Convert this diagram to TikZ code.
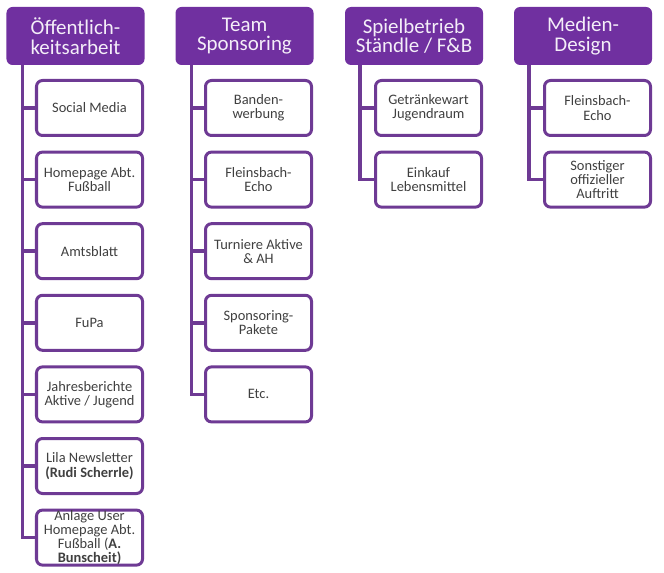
\documentclass[tikz,border=0pt]{standalone}
\usepackage{fontspec}
\setmainfont{Carlito}
\usetikzlibrary{backgrounds}
\definecolor{hdrfill}{HTML}{7030A0}
\definecolor{linecol}{HTML}{6E3A94}
\definecolor{txtcol}{HTML}{404040}
\definecolor{hdrtxt}{HTML}{F4EEF8}
\tikzset{
  hdr/.style={draw=none, fill=hdrfill, rounded corners=6bp, minimum width=138bp, minimum height=58bp,
    text=hdrtxt, align=center, inner sep=0pt, font=\fontsize{21}{19.5}\selectfont},
  child/.style={draw=linecol, line width=3bp, fill=white, rounded corners=6bp, minimum width=106bp,
    minimum height=55bp, text=txtcol, align=center, inner sep=0pt, font=\fontsize{14.5}{14.2}\selectfont},
  conn/.style={draw=linecol, line width=3.5bp}
}
\begin{document}
\begin{tikzpicture}[x=1bp,y=-1bp]
\useasboundingbox (0,0) rectangle (664,573);
% headers
\node[hdr] (h1) at (75.5,36) {Öffentlich-\\keitsarbeit};
\node[hdr] (h2) at (244.5,36) {Team\\Sponsoring};
\node[hdr] (h3) at (414,36) {Spielbetrieb\\Ständle / F\&B};
\node[hdr] (h4) at (583,36) {Medien-\\Design};
% stem coordinates
\coordinate (s1) at (22.5,60);
\coordinate (s2) at (191.3,60);
\coordinate (s3) at (360,60);
\coordinate (s4) at (529,60);
% column 1
\node[child] (c1a) at (89.5,108) {Social Media};
\node[child] (c1b) at (89.5,179.6) {Homepage Abt.\\Fußball};
\node[child] (c1c) at (89.5,251.2) {Amtsblatt};
\node[child] (c1d) at (89.5,322.8) {FuPa};
\node[child] (c1e) at (89.5,394.4) {Jahresberichte\\Aktive / Jugend};
\node[child] (c1f) at (89.5,466) {Lila Newsletter\\\textbf{(Rudi Scherrle)}};
\node[child, font=\fontsize{14.5}{13.8}\selectfont] (c1g) at (89.5,537.6) {Anlage User\\Homepage Abt.\\Fußball (\textbf{A.}\\\textbf{Bunscheit)}};
% column 2
\node[child] (c2a) at (258.5,108) {Banden-\\werbung};
\node[child] (c2b) at (258.5,179.6) {Fleinsbach-\\Echo};
\node[child] (c2c) at (258.5,251.2) {Turniere Aktive\\\& AH};
\node[child] (c2d) at (258.5,322.8) {Sponsoring-\\Pakete};
\node[child] (c2e) at (258.5,394.4) {Etc.};
% column 3
\node[child] (c3a) at (428.5,108) {Getränkewart\\Jugendraum};
\node[child] (c3b) at (428.5,179.6) {Einkauf\\Lebensmittel};
% column 4
\node[child] (c4a) at (597.5,108) {Fleinsbach-\\Echo};
\node[child] (c4b) at (597.5,179.6) {Sonstiger\\offizieller\\Auftritt};
% connectors
\begin{scope}[on background layer]
\foreach \c in {c1a,c1b,c1c,c1d,c1e,c1f,c1g} \draw[conn] (s1) |- (\c.west);
\foreach \c in {c2a,c2b,c2c,c2d,c2e} \draw[conn] (s2) |- (\c.west);
\foreach \c in {c3a,c3b} \draw[conn] (s3) |- (\c.west);
\foreach \c in {c4a,c4b} \draw[conn] (s4) |- (\c.west);
\end{scope}
\end{tikzpicture}
\end{document}
